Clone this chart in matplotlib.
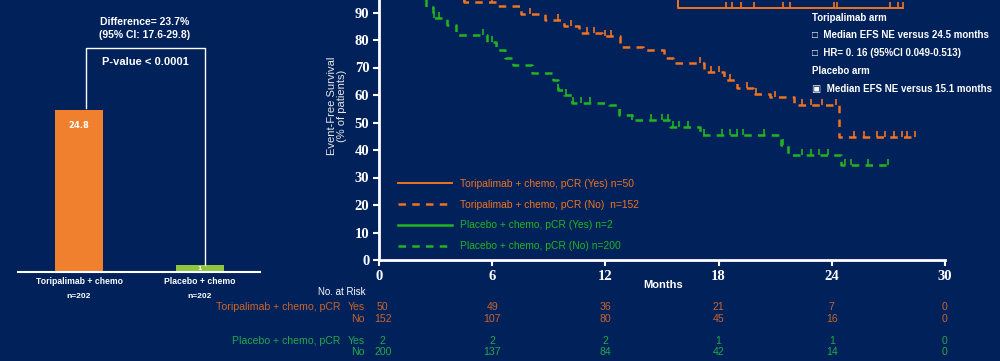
import numpy as np
import matplotlib.pyplot as plt
from matplotlib.transforms import blended_transform_factory

BG = '#00215a'
ORANGE = '#ee7422'
GREEN = '#1fb51f'
ORANGE_TXT = '#c8662c'
GREEN_TXT = '#22a84a'

# bar chart (pCR rate)
bar_labels = ['Toripalimab + chemo', 'Placebo + chemo']
bar_n = ['n=202', 'n=202']
bar_values = [24.8, 1.1]
bar_text = ['24.8', '1']

# KM curves: step times (months) and survival (%)
tori_no_t = [0, 1.0, 2.0, 3.2, 4.5, 6.2, 7.5, 8.8, 9.8, 10.6, 11.8, 12.8, 14.0, 15.1, 15.6,
             17.2, 18.3, 19.0, 19.8, 20.7, 22.0, 24.4]
tori_no_s = [100, 98.5, 97, 95.5, 94, 92.5, 89.5, 87.3, 85, 82.5, 81.5, 77.5, 76.5, 73.5, 71.5,
             68.4, 65.5, 62.5, 60.5, 59.3, 56.4, 44.7]
tori_no_end = 28.4
tori_no_cens = [4.5, 6.0, 8.0, 9.5, 10.2, 11.0, 11.4, 12.0, 12.3, 17.0, 17.6, 18.0, 18.6,
                19.5, 20.0, 21.0, 22.4, 22.9, 23.5, 24.2, 25.2, 25.7, 26.4, 26.8, 27.3, 27.7, 28.0, 28.4]

tori_yes_t = [0, 15.85]
tori_yes_s = [100, 91.6]
tori_yes_end = 27.8
tori_yes_cens = [18.4, 18.7, 19.2, 19.9, 21.4, 21.8, 24.1, 24.3, 27.1, 27.5, 27.8]

plac_no_t = [0, 0.5, 1.0, 1.5, 2.0, 2.5, 2.85, 3.6, 4.1, 5.7, 6.2, 6.7, 7.1, 8.1, 9.2, 9.5,
             9.8, 10.25, 12.2, 12.7, 13.4, 15.4, 17.0, 21.3, 21.7, 24.5]
plac_no_s = [100, 99, 98, 97, 95.5, 92, 88, 85.5, 81.8, 79.3, 76.4, 73.5, 71, 68, 65.5, 62,
             60, 57, 56.4, 52.7, 51, 48.4, 45.5, 42, 38.2, 34.5]
plac_no_end = 27.0
plac_no_cens = [2.9, 3.2, 5.5, 6.0, 9.5, 9.9, 10.3, 10.7, 11.2, 12.8, 13.4, 14.4, 15.0, 15.3,
                15.6, 15.9, 16.4, 17.2, 18.2, 18.6, 19.0, 19.3, 20.4, 21.4, 22.4, 22.9, 23.3,
                23.8, 24.7, 25.0, 25.9, 27.0]

plac_yes_t = [0]
plac_yes_s = [100]
plac_yes_end = 24.0

# number at risk
risk_months = [0, 6, 12, 18, 24, 30]
risk_tori_yes = [50, 49, 36, 21, 7, 0]
risk_tori_no = [152, 107, 80, 45, 16, 0]
risk_plac_yes = [2, 2, 2, 1, 1, 0]
risk_plac_no = [200, 137, 84, 42, 14, 0]

H = 361.0


def fy(y):
    return 1 - y / H


fig = plt.figure(figsize=(10, 3.61), dpi=100, facecolor=BG)

# ---- left bar panel ----
axb = fig.add_axes([0.018, 89 / H, 0.242, 272 / H])
axb.set_facecolor(BG)
axb.bar([0, 1], bar_values, width=0.4, color=['#f07f2e', '#8dc63f'])
axb.set_xlim(-0.504, 1.496)
axb.set_ylim(0, 41.6)
for s in ['top', 'right', 'left']:
    axb.spines[s].set_visible(False)
axb.spines['bottom'].set_color('white')
axb.spines['bottom'].set_linewidth(1.5)
axb.set_xticks([])
axb.set_yticks([])
axb.plot([0.06, 0.06, 1.04, 1.04], [bar_values[0] + 0.3, 34.3, 34.3, bar_values[1]],
         color='white', lw=1)
axb.text(0, 22.4, bar_text[0], color='white', fontsize=6, ha='center', va='center', fontweight='bold')
axb.text(1, 0.55, bar_text[1], color='white', fontsize=4.5, ha='center', va='center', fontweight='bold')

fig.text(0.145, fy(22), 'Difference= 23.7%', color='white', fontsize=7.5, ha='center', va='center',
         fontweight='bold', family='Liberation Sans')
fig.text(0.145, fy(35), '(95% CI: 17.6-29.8)', color='white', fontsize=7.5, ha='center', va='center',
         fontweight='bold', family='Liberation Sans')
fig.text(0.145, fy(62), 'P-value < 0.0001', color='white', fontsize=8, ha='center', va='center',
         fontweight='bold', family='Liberation Sans')
for i, x in enumerate([0.079, 0.200]):
    fig.text(x, fy(282), bar_labels[i], color='white', fontsize=6.2, ha='center', va='center',
             fontweight='bold', family='Liberation Sans')
    fig.text(x, fy(296), bar_n[i], color='white', fontsize=6, ha='center', va='center',
             fontweight='bold', family='Liberation Sans')

# ---- KM panel ----
ax = fig.add_axes([0.379, 101 / H, 0.566, 275 / H])
ax.set_facecolor('none')
ax.set_xlim(0, 30)
ax.set_ylim(0, 100)
for s in ['top', 'right']:
    ax.spines[s].set_visible(False)
for s in ['left', 'bottom']:
    ax.spines[s].set_color('white')
    ax.spines[s].set_linewidth(2)
ax.set_xticks(risk_months)
ax.set_yticks(range(0, 91, 10))
ax.tick_params(colors='white', length=4, width=1.5, labelsize=10.5, pad=3)
for lab in ax.get_xticklabels() + ax.get_yticklabels():
    lab.set_family('Liberation Serif')
    lab.set_fontweight('bold')

tick = [(0, 0), (0, 1)]


def km(t, s, t_end, color, ls, lw, cens, label):
    line, = ax.step(list(t) + [t_end], list(s) + [s[-1]], where='post', color=color,
                    ls=ls, lw=lw, label=label, clip_on=True)
    if cens:
        t_arr = np.array(t)
        idx = np.searchsorted(t_arr, cens, side='right') - 1
        ax.plot(cens, np.array(s)[idx], ls='none', marker=tick, ms=9, mew=1.2,
                mec=color, mfc='none')
    return line


h1 = km(tori_yes_t, tori_yes_s, tori_yes_end, ORANGE, '-', 1.4, tori_yes_cens,
        'Toripalimab + chemo, pCR (Yes) n=50')
h2 = km(tori_no_t, tori_no_s, tori_no_end, ORANGE, (0, (3, 2.5)), 1.8, tori_no_cens,
        'Toripalimab + chemo, pCR (No)  n=152')
h3 = km(plac_yes_t, plac_yes_s, plac_yes_end, GREEN, '-', 1.8, [],
        'Placebo + chemo, pCR (Yes) n=2')
h4 = km(plac_no_t, plac_no_s, plac_no_end, GREEN, (0, (3, 2.5)), 1.8, plac_no_cens,
        'Placebo + chemo, pCR (No) n=200')

leg = ax.legend(handles=[h1, h2, h3, h4], loc='upper left', bbox_to_anchor=(0.034, 0.295),
                frameon=False, handlelength=5.2, handletextpad=0.8,
                labelspacing=1.05, borderpad=0, borderaxespad=0,
                labelcolor=[ORANGE, ORANGE, GREEN, GREEN], prop={'family': 'Liberation Sans', 'size': 7.4})

fig.text(0.337, fy(106), 'Event-Free Survival\n(% of patients)', color='#e8e8e8', fontsize=8,
         rotation=90, ha='center', va='center', family='Liberation Sans', linespacing=1.1)
fig.text(0.663, fy(285), 'Months', color='white', fontsize=8, ha='center', va='center',
         fontweight='bold', family='Liberation Sans')

notes = [('Toripalimab arm', 18), ('\u25a1  Median EFS NE versus 24.5 months', 35),
         ('\u25a1  HR= 0. 16 (95%CI 0.049-0.513)', 53), ('Placebo arm', 71),
         ('\u25a3  Median EFS NE versus 15.1 months', 89)]
for txt, y in notes:
    fig.text(0.812, fy(y), txt, color='white', fontsize=7, ha='left', va='center',
             fontweight='bold', family=['Liberation Sans', 'DejaVu Sans'])

# ---- risk table ----
tr = blended_transform_factory(ax.transData, fig.transFigure)
fig.text(0.365, fy(292), 'No. at Risk', color='white', fontsize=7, ha='right', va='center',
         family='Liberation Sans')
fig.text(0.340, fy(307), 'Toripalimab + chemo, pCR', color=ORANGE_TXT, fontsize=7.6, ha='right',
         va='center', family='Liberation Sans')
fig.text(0.340, fy(341), 'Placebo + chemo, pCR', color=GREEN_TXT, fontsize=7.6, ha='right',
         va='center', family='Liberation Sans')
rows = [('Yes', 307, risk_tori_yes, ORANGE_TXT), ('No', 319, risk_tori_no, ORANGE_TXT),
        ('Yes', 341, risk_plac_yes, GREEN_TXT), ('No', 352, risk_plac_no, GREEN_TXT)]
for name, y, vals, col in rows:
    fig.text(0.365, fy(y), name, color=col, fontsize=7.6, ha='right', va='center',
             family='Liberation Sans')
    for m, v in zip(risk_months, vals):
        ax.text(m + (0.2 if m == 0 else 0), fy(y), str(v), color=col, fontsize=7.6, ha='center',
                va='center', transform=tr, family='Liberation Sans', clip_on=False)

fig.savefig('out.png', dpi=100, facecolor=BG)
